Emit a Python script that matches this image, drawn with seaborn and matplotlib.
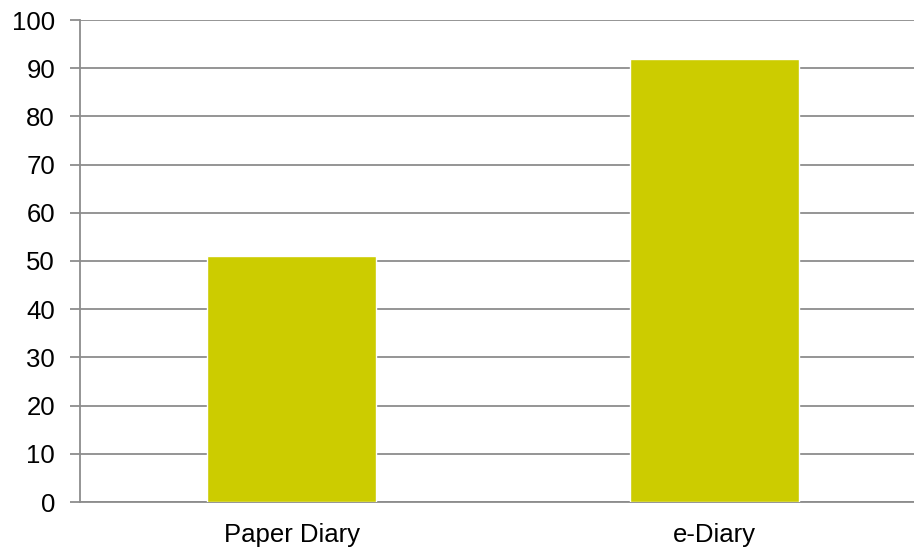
import matplotlib
matplotlib.use("Agg")
import matplotlib.pyplot as plt
import seaborn as sns
import pandas as pd

# data
categories = ["Paper Diary", "e-Diary"]
values = [51, 92]
y_ticks = [0, 10, 20, 30, 40, 50, 60, 70, 80, 90, 100]

df = pd.DataFrame({"Diary": categories, "Value": values})

sns.set_theme(style="white")
plt.rcParams['font.family'] = ['Liberation Sans', 'DejaVu Sans']

fig = plt.figure(figsize=(9.14, 5.49), dpi=100)
ax = fig.add_axes([80 / 914, 1 - 502 / 549, 846 / 914, 482 / 549])

sns.barplot(x="Diary", y="Value", data=df, color="#CCCC00", saturation=1,
            width=0.4, ax=ax, zorder=3)

grid_col = "#8c8c8c"
ax.set_ylim(0, 100)
ax.set_xlim(-0.5, 1.5)
ax.set_yticks(y_ticks)
ax.set_yticklabels([str(t) for t in y_ticks], fontsize=18.5, color="black")
ax.yaxis.grid(True, color=grid_col, linewidth=1.3, zorder=0)
ax.set_axisbelow(True)

# x labels centred, tick marks at category boundaries
ax.set_xticks([0, 1])
ax.set_xticklabels(categories, fontsize=18.5, color="black")
ax.tick_params(axis="x", length=0, pad=15)
ax.set_xticks([-0.5, 0.5, 1.5], minor=True)
ax.tick_params(axis="x", which="minor", length=7, color=grid_col, width=1.3)
ax.tick_params(axis="y", length=7, color=grid_col, width=1.3, pad=11, left=True)

for s in ["top", "right"]:
    ax.spines[s].set_visible(False)
for s in ["left", "bottom"]:
    ax.spines[s].set_color(grid_col)
    ax.spines[s].set_linewidth(1.3)

ax.set_xlabel("")
ax.set_ylabel("")

fig.savefig("out.png", dpi=100)
